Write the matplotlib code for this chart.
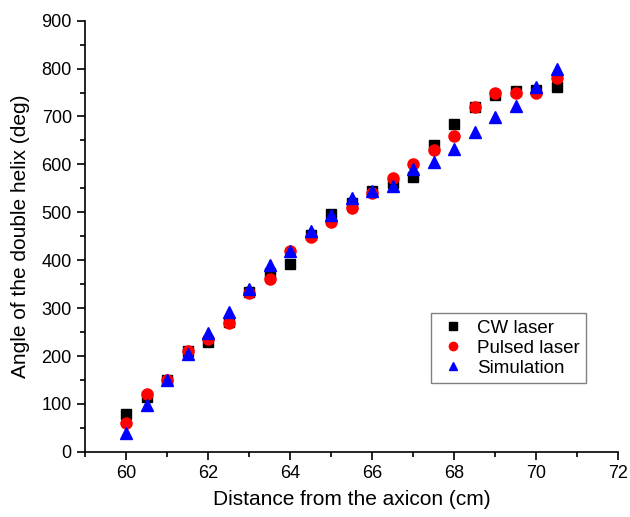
import matplotlib
matplotlib.use('Agg')
import matplotlib.pyplot as plt
from matplotlib.ticker import MultipleLocator

plt.rcParams['font.family'] = ['Liberation Sans', 'DejaVu Sans']

# distance from the axicon (cm)
distance = [60, 60.5, 61, 61.5, 62, 62.5, 63, 63.5, 64, 64.5, 65, 65.5,
            66, 66.5, 67, 67.5, 68, 68.5, 69, 69.5, 70, 70.5]

# measured / simulated angle (deg)
cw_laser = [80, 115, 150, 211, 229, 271, 334, 373, 392, 452, 497, 519,
            545, 562, 574, 640, 685, 720, 745, 753, 755, 762]
pulsed_laser = [60, 120, 150, 211, 236, 270, 331, 360, 419, 449, 480, 510,
                540, 571, 601, 630, 660, 720, 750, 750, 749, 780]
simulation = [40, 97, 150, 205, 248, 291, 339, 389, 419, 461, 495, 529,
              544, 554, 590, 606, 632, 668, 698, 721, 762, 800]

fig = plt.figure(figsize=(6.3, 5.17), dpi=100)
ax = fig.add_axes([0.135, 0.126, 0.846, 0.834])

ax.plot(distance, cw_laser, 's', color='black', markersize=7, label='CW laser')
ax.plot(distance, pulsed_laser, 'o', color='red', markersize=8, label='Pulsed laser')
ax.plot(distance, simulation, '^', color='blue', markersize=8.5, label='Simulation')

ax.set_xlim(59, 72)
ax.set_ylim(0, 900)
ax.xaxis.set_major_locator(MultipleLocator(2))
ax.xaxis.set_minor_locator(MultipleLocator(1))
ax.yaxis.set_major_locator(MultipleLocator(100))
ax.yaxis.set_minor_locator(MultipleLocator(50))

ax.spines['top'].set_visible(False)
ax.spines['right'].set_visible(False)
for side in ['left', 'bottom']:
    ax.spines[side].set_linewidth(1.2)
ax.tick_params(which='major', direction='out', length=6, width=1.2, labelsize=13)
ax.tick_params(which='minor', direction='out', length=3.5, width=1.2)

ax.set_xlabel('Distance from the axicon (cm)', fontsize=15, labelpad=6)
ax.set_ylabel('Angle of the double helix (deg)', fontsize=15, labelpad=8)

leg = ax.legend(loc='lower left', bbox_to_anchor=(0.649, 0.159), fontsize=13.5,
                fancybox=False, edgecolor='gray', framealpha=1, borderaxespad=0,
                handletextpad=0.5, borderpad=0.35, labelspacing=0.15,
                markerscale=0.75, handlelength=1.6)

plt.savefig('out.png', dpi=100)
